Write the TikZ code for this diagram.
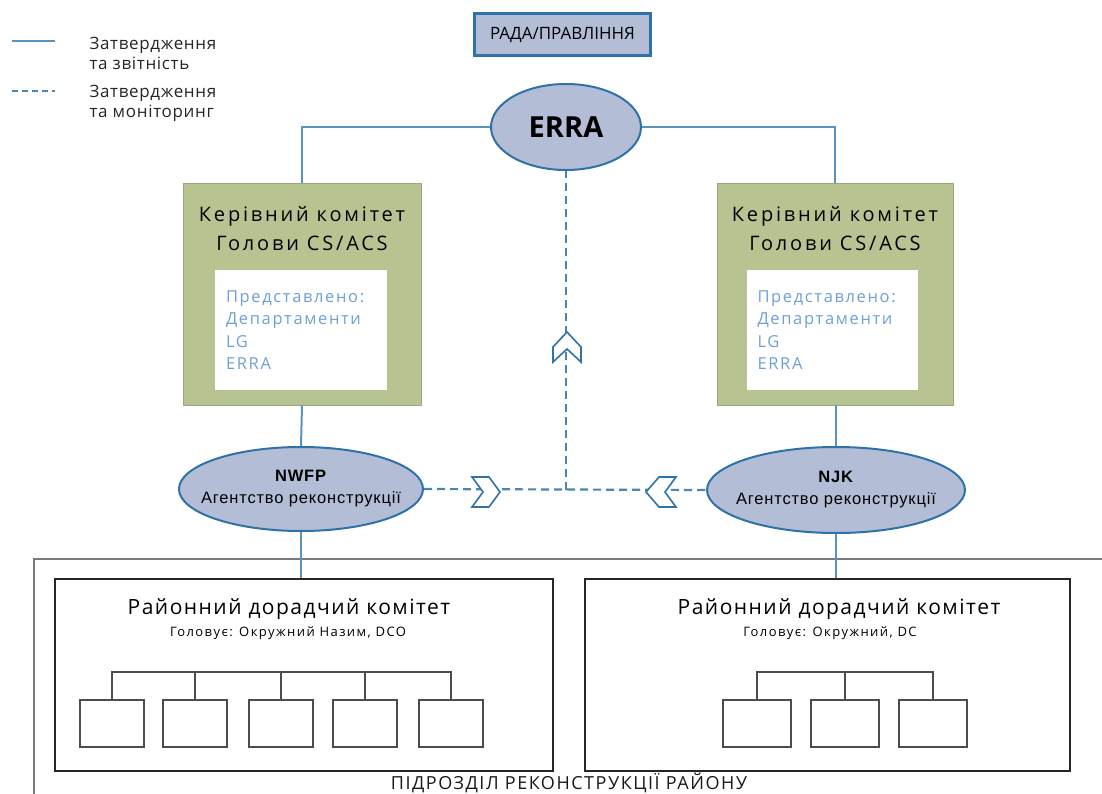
\documentclass[tikz,border=0pt]{standalone}
\usepackage{fontspec}
\setmainfont{Open Sans}
\newfontfamily\arialf{Liberation Sans}
\usetikzlibrary{shapes.geometric}
\definecolor{lnblue}{HTML}{5B93BF}
\definecolor{dblue}{HTML}{4A86B0}
\definecolor{ellfill}{HTML}{B3BDD6}
\definecolor{ellline}{HTML}{2F72A8}
\definecolor{grn}{HTML}{B7C492}
\definecolor{txtblue}{HTML}{6FA0D6}
\definecolor{gry}{HTML}{7A7A7A}
\newcommand{\lsp}[1]{\addfontfeature{LetterSpace=#1}}
\tikzset{
  solidln/.style={draw=lnblue, line width=2pt},
  dashln/.style={draw=dblue, line width=2.2pt, dash pattern=on 8pt off 5pt},
  ell/.style={ellipse, draw=ellline, line width=2pt, fill=ellfill, inner xsep=-30pt, inner ysep=0pt},
  grnbox/.style={rectangle, fill=grn, draw=grn!85!black, line width=0.4pt, inner sep=0pt},
  whitebox/.style={rectangle, fill=white, inner sep=0pt, text width=150pt, align=left, text=txtblue},
  distbox/.style={rectangle, draw=black!85, line width=2.4pt, inner sep=0pt},
  smallbox/.style={rectangle, draw=black!70, line width=2pt, fill=white, inner sep=0pt, minimum width=64pt, minimum height=47pt},
  treeln/.style={draw=black!70, line width=2pt},
  chev/.style={draw=ellline, line width=1.6pt, fill=white, line join=miter},
  legtxt/.style={anchor=west, align=left, text=black!85, font=\fontsize{17}{20}\selectfont\lsp{4}},
}
\begin{document}
\begin{tikzpicture}[x=1pt,y=-1pt]
\clip (0,0) rectangle (1102,794);
\fill[white] (0,0) rectangle (1102,794);

% legend
\coordinate (l1a) at (12,41); \coordinate (l1b) at (55,41);
\coordinate (l2a) at (12,91); \coordinate (l2b) at (55,91);
\draw[solidln] (l1a) -- (l1b);
\draw[dashln, dash pattern=on 6pt off 4pt] (l2a) -- (l2b);
\node[legtxt] (leg1) at (86,53) {Затвердження\\та звітність};
\node[legtxt] (leg2) at (86,103) {Затвердження\\та моніторинг};

% board
\node[rectangle, draw=ellline, line width=2.2pt, fill=ellfill, minimum width=176pt, minimum height=42pt, font=\fontsize{17}{20}\selectfont] (board) at (562.5,34.5) {РАДА/ПРАВЛІННЯ};

% ERRA
\node[ell, inner xsep=0pt, minimum width=150pt, minimum height=86pt, font=\bfseries\fontsize{29}{32}\selectfont] (erra) at (566,127) {ERRA};

% steering committees
\node[grnbox, minimum width=238pt, minimum height=222pt] (sc1) at (302,294) {};
\node[grnbox, minimum width=236pt, minimum height=222pt] (sc2) at (835,294) {};
\node[align=center, font=\fontsize{20}{29}\selectfont\lsp{14}] (sc1t) at (302,229) {Керівний комітет\\Голови CS/ACS};
\node[align=center, font=\fontsize{20}{29}\selectfont\lsp{14}] (sc2t) at (835,229) {Керівний комітет\\Голови CS/ACS};
\node[whitebox, minimum width=172pt, minimum height=120pt, font=\fontsize{16.5}{22.3}\selectfont\lsp{10}] (wb1) at (301,330) {Представлено:\\Департаменти\\LG\\ERRA};
\node[whitebox, minimum width=171pt, minimum height=120pt, font=\fontsize{16.5}{22.3}\selectfont\lsp{10}] (wb2) at (832.5,330) {Представлено:\\Департаменти\\LG\\ERRA};

% agencies
\node[ell, minimum width=244pt, minimum height=84pt, align=center, font=\arialf\fontsize{16.5}{22}\selectfont\lsp{5}] (nwfp) at (301,489) {\textbf{NWFP}\\Агентство реконструкції};
\node[ell, minimum width=258pt, minimum height=86pt, align=center, font=\arialf\fontsize{16.5}{22}\selectfont\lsp{5}] (njk) at (836,490) {\textbf{NJK}\\Агентство реконструкції};

% outer unit frame
\draw[draw=gry, line width=2pt] (1130,559) -- (34,559) -- (34,830);
\node[font=\fontsize{18}{20}\selectfont\lsp{8.5}, text=black!90, anchor=base] (unitlbl) at (569,789) {ПІДРОЗДІЛ РЕКОНСТРУКЦІЇ РАЙОНУ};

% district committees
\node[distbox, minimum width=498pt, minimum height=192pt] (dc1) at (304,675) {};
\node[distbox, minimum width=485pt, minimum height=192pt] (dc2) at (827.5,675) {};
\node[font=\fontsize{21}{26}\selectfont\lsp{7}] (dc1t) at (289,609) {Районний дорадчий комітет};
\node[font=\fontsize{13}{15}\selectfont\lsp{11}] (dc1s) at (288,633) {Головує: Окружний Назим, DCO};
\node[font=\fontsize{21}{26}\selectfont\lsp{7}] (dc2t) at (839,609) {Районний дорадчий комітет};
\node[font=\fontsize{13}{15}\selectfont\lsp{11}] (dc2s) at (830,633) {Головує: Окружний, DC};

% small boxes left
\node[smallbox] (a1) at (112,723.5) {};
\node[smallbox] (a2) at (195,723.5) {};
\node[smallbox] (a3) at (281,723.5) {};
\node[smallbox] (a4) at (365,723.5) {};
\node[smallbox] (a5) at (451,723.5) {};
\coordinate (ta) at (112,672);
\draw[treeln] (a1.north) -- (ta) -| (a5.north);
\foreach \n in {a2,a3,a4} {\draw[treeln] (\n.north) -- (\n.north |- ta);}
% small boxes right
\node[smallbox, minimum width=68pt] (b1) at (757,723.5) {};
\node[smallbox, minimum width=68pt] (b2) at (845,723.5) {};
\node[smallbox, minimum width=68pt] (b3) at (933,723.5) {};
\coordinate (tb) at (757,672);
\draw[treeln] (b1.north) -- (tb) -| (b3.north);
\draw[treeln] (b2.north) -- (b2.north |- tb);

% solid connectors
\draw[solidln] (erra.west) -| (sc1.north);
\draw[solidln] (erra.east) -| (sc2.north);
\draw[solidln] (sc1.south) -- (nwfp.north);
\draw[solidln] (sc2.south -| njk.north) -- (njk.north);
\draw[solidln] (nwfp.south) -- (nwfp.south |- dc1.north);
\draw[solidln] (njk.south) -- (njk.south |- dc2.north);

% dashed connectors
\coordinate (jn) at (566,490);
\draw[dashln] (nwfp.east) -- (njk.west);
\draw[dashln] (jn) -- (erra.south);

% chevrons
\draw[chev] (472,477) -- (489,477) -- (500,492) -- (489,507) -- (472,507) -- (483,492) -- cycle;
\draw[chev] (676,477) -- (659,477) -- (646,492) -- (659,507) -- (676,507) -- (665,492) -- cycle;
\draw[chev] (553,362) -- (553,347) -- (567,332) -- (581,347) -- (581,362) -- (567,349) -- cycle;
\end{tikzpicture}
\end{document}
